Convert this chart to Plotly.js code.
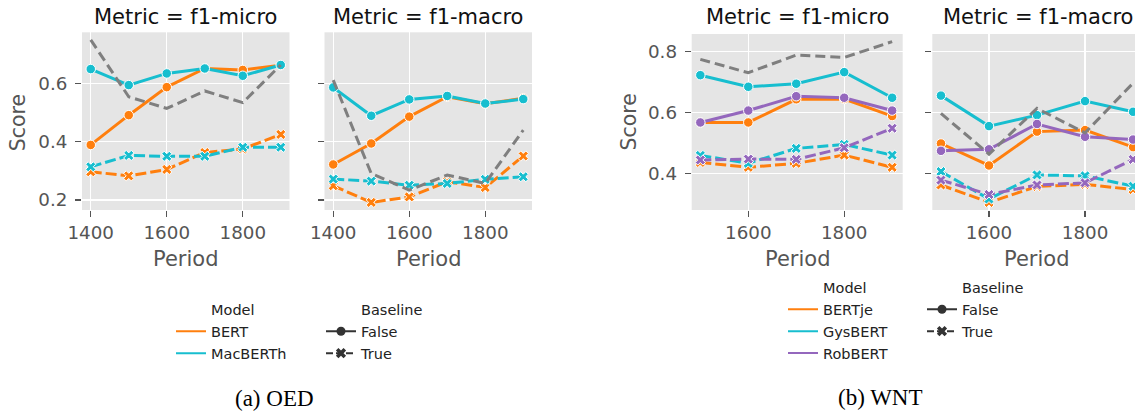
<!DOCTYPE html>
<html>
<head>
<meta charset="utf-8">
<script src="https://cdn.plot.ly/plotly-3.0.1.min.js"></script>
<style>
html,body{margin:0;padding:0;background:#fff;overflow:hidden;}
#chart{width:1135px;height:412px;}
</style>
</head>
<body>
<div id="chart"></div>
<script>
// ---- data ----
const periodsA = [1400, 1500, 1600, 1700, 1800, 1900];
const periodsB = [1500, 1600, 1700, 1800, 1900];

// OED, f1-micro
const bertMicro          = [0.389, 0.491, 0.587, 0.651, 0.646, 0.662];
const macberthMicro      = [0.649, 0.594, 0.634, 0.651, 0.626, 0.663];
const bertBaseMicro      = [0.297, 0.283, 0.305, 0.363, 0.375, 0.425];
const macberthBaseMicro  = [0.314, 0.353, 0.350, 0.350, 0.381, 0.381];
const refMicroOED        = [0.749, 0.554, 0.514, 0.574, 0.534, 0.663];
// OED, f1-macro
const bertMacro          = [0.322, 0.394, 0.486, 0.554, 0.530, 0.549];
const macberthMacro      = [0.586, 0.489, 0.545, 0.557, 0.531, 0.546];
const bertBaseMacro      = [0.249, 0.192, 0.211, 0.263, 0.243, 0.351];
const macberthBaseMacro  = [0.272, 0.265, 0.251, 0.257, 0.271, 0.280];
const refMacroOED        = [0.611, 0.291, 0.234, 0.286, 0.257, 0.440];

// WNT, f1-micro
const bertjeMicro        = [0.568, 0.568, 0.644, 0.645, 0.589];
const gysbertMicro       = [0.723, 0.685, 0.695, 0.733, 0.649];
const robbertMicro       = [0.568, 0.607, 0.654, 0.649, 0.607];
const bertjeBaseMicro    = [0.437, 0.421, 0.434, 0.461, 0.421];
const gysbertBaseMicro   = [0.460, 0.434, 0.483, 0.496, 0.461];
const robbertBaseMicro   = [0.445, 0.448, 0.447, 0.485, 0.549];
const refMicroWNT        = [0.775, 0.731, 0.789, 0.781, 0.833];
// WNT, f1-macro
const bertjeMacro        = [0.499, 0.427, 0.538, 0.543, 0.487];
const gysbertMacro       = [0.656, 0.556, 0.592, 0.638, 0.603];
const robbertMacro       = [0.475, 0.480, 0.563, 0.521, 0.512];
const bertjeBaseMacro    = [0.363, 0.306, 0.358, 0.365, 0.348];
const gysbertBaseMacro   = [0.407, 0.317, 0.396, 0.393, 0.359];
const robbertBaseMacro   = [0.379, 0.332, 0.363, 0.370, 0.447];
const refMacroWNT        = [0.598, 0.464, 0.614, 0.534, 0.697];

const yTicksOED = [0.2, 0.4, 0.6];
const yTicksWNT = [0.4, 0.6, 0.8];
const xTicks = [1400, 1600, 1800];
const modelsOED = ['BERT', 'MacBERTh'];
const modelsWNT = ['BERTje', 'GysBERT', 'RobBERT'];
const baselineLabels = ['False', 'True'];

// ---- styles ----
const COL = {BERT:'#ff7f0e', MacBERTh:'#17becf', BERTje:'#ff7f0e', GysBERT:'#17becf', RobBERT:'#9467bd'};
const GRAY = '#7f7f7f';
const DASH = '11px,4px';
const W = 1135, H = 412;
const px = v => v / W;
const py = v => 1 - v / H;

function series(x, y, color, isBase, xa, ya) {
  return {
    x: x, y: y, xaxis: xa, yaxis: ya, type: 'scatter', mode: 'lines+markers',
    showlegend: false, hoverinfo: 'skip',
    line: {color: color, width: 3, dash: isBase ? DASH : 'solid'},
    marker: {symbol: isBase ? 'x' : 'circle', size: isBase ? 9 : 9.5, color: color,
             line: {color: '#ffffff', width: 1}}
  };
}
function ref(x, y, xa, ya) {
  return {x: x, y: y, xaxis: xa, yaxis: ya, type: 'scatter', mode: 'lines', showlegend: false,
          hoverinfo: 'skip', line: {color: GRAY, width: 3, dash: '10px,5px'}};
}

const traces = [];
// OED micro
traces.push(series(periodsA, bertMicro, COL.BERT, false, 'x', 'y'));
traces.push(series(periodsA, bertBaseMicro, COL.BERT, true, 'x', 'y'));
traces.push(series(periodsA, macberthMicro, COL.MacBERTh, false, 'x', 'y'));
traces.push(series(periodsA, macberthBaseMicro, COL.MacBERTh, true, 'x', 'y'));
traces.push(ref(periodsA, refMicroOED, 'x', 'y'));
// OED macro
traces.push(series(periodsA, bertMacro, COL.BERT, false, 'x2', 'y2'));
traces.push(series(periodsA, bertBaseMacro, COL.BERT, true, 'x2', 'y2'));
traces.push(series(periodsA, macberthMacro, COL.MacBERTh, false, 'x2', 'y2'));
traces.push(series(periodsA, macberthBaseMacro, COL.MacBERTh, true, 'x2', 'y2'));
traces.push(ref(periodsA, refMacroOED, 'x2', 'y2'));
// WNT micro
traces.push(series(periodsB, bertjeMicro, COL.BERTje, false, 'x3', 'y3'));
traces.push(series(periodsB, bertjeBaseMicro, COL.BERTje, true, 'x3', 'y3'));
traces.push(series(periodsB, gysbertMicro, COL.GysBERT, false, 'x3', 'y3'));
traces.push(series(periodsB, gysbertBaseMicro, COL.GysBERT, true, 'x3', 'y3'));
traces.push(series(periodsB, robbertMicro, COL.RobBERT, false, 'x3', 'y3'));
traces.push(series(periodsB, robbertBaseMicro, COL.RobBERT, true, 'x3', 'y3'));
traces.push(ref(periodsB, refMicroWNT, 'x3', 'y3'));
// WNT macro
traces.push(series(periodsB, bertjeMacro, COL.BERTje, false, 'x4', 'y4'));
traces.push(series(periodsB, bertjeBaseMacro, COL.BERTje, true, 'x4', 'y4'));
traces.push(series(periodsB, gysbertMacro, COL.GysBERT, false, 'x4', 'y4'));
traces.push(series(periodsB, gysbertBaseMacro, COL.GysBERT, true, 'x4', 'y4'));
traces.push(series(periodsB, robbertMacro, COL.RobBERT, false, 'x4', 'y4'));
traces.push(series(periodsB, robbertBaseMacro, COL.RobBERT, true, 'x4', 'y4'));
traces.push(ref(periodsB, refMacroWNT, 'x4', 'y4'));

// ---- legends (seaborn-style: header rows with invisible handle) ----
function header(name, lg) {
  return {x: [null], y: [null], type: 'scatter', mode: 'lines', name: name, legend: lg,
          line: {width: 0, color: 'rgba(0,0,0,0)'}, hoverinfo: 'skip'};
}
function modelEntry(name, lg) {
  return {x: [null], y: [null], type: 'scatter', mode: 'lines', name: name, legend: lg,
          line: {width: 2, color: COL[name]}, hoverinfo: 'skip'};
}
function baseEntry(name, lg) {
  const isT = name === 'True';
  return {x: [null], y: [null], type: 'scatter', mode: 'lines+markers', name: name, legend: lg,
          line: {width: 2, color: '#333333', dash: isT ? '7px,3px' : 'solid'},
          marker: {symbol: isT ? 'x' : 'circle', size: 9, color: '#333333', line: {width: 0}},
          hoverinfo: 'skip'};
}
traces.push(header('Model', 'legend'));
modelsOED.forEach(m => traces.push(modelEntry(m, 'legend')));
traces.push(header('Baseline', 'legend2'));
baselineLabels.forEach(b => traces.push(baseEntry(b, 'legend2')));
traces.push(header('Model', 'legend3'));
modelsWNT.forEach(m => traces.push(modelEntry(m, 'legend3')));
traces.push(header('Baseline', 'legend4'));
baselineLabels.forEach(b => traces.push(baseEntry(b, 'legend4')));

const FONT = 'DejaVu Sans, sans-serif';
const TICKC = '#555555';
function xax(d0, d1, r, anchor) {
  return {domain: [px(d0), px(d1)], range: r, anchor: anchor, tickvals: xTicks,
          ticks: 'outside', ticklen: 6, tickwidth: 1.2, tickcolor: TICKC,
          ticklabelstandoff: 0,
          showgrid: true, gridcolor: '#ffffff', gridwidth: 1.3, zeroline: false, showline: false,
          tickfont: {family: FONT, size: 18.3, color: TICKC}, fixedrange: true};
}
function yax(top, bot, r, anchor, ticks, labels) {
  return {domain: [py(bot), py(top)], range: r, anchor: anchor, tickvals: ticks,
          ticktext: ticks.map(v => v.toFixed(1)), showticklabels: labels,
          ticks: 'outside', ticklen: 6, tickwidth: 1.2, tickcolor: TICKC,
          ticklabelstandoff: 4,
          showgrid: true, gridcolor: '#ffffff', gridwidth: 1.3, zeroline: false, showline: false,
          tickfont: {family: FONT, size: 18.3, color: TICKC}, fixedrange: true};
}

function ann(text, x, y, size, color, family, angle) {
  return {text: text, x: px(x), y: py(y), xref: 'paper', yref: 'paper', showarrow: false,
          xanchor: 'center', yanchor: 'middle', textangle: angle || 0,
          font: {family: family || FONT, size: size, color: color}};
}

const legendFont = {family: FONT, size: 14.5, color: '#222222'};
function leg(x, y) {
  return {x: px(x), y: py(y), xanchor: 'left', yanchor: 'top', xref: 'paper', yref: 'paper',
          bgcolor: 'rgba(0,0,0,0)', borderwidth: 0, font: legendFont, traceorder: 'normal',
          itemclick: false, itemdoubleclick: false, tracegroupgap: 0};
}

const layout = {
  width: W, height: H, margin: {l: 0, r: 0, t: 0, b: 0},
  paper_bgcolor: '#ffffff', plot_bgcolor: '#e5e5e5',
  xaxis:  xax(82, 289.5, [1377, 1923], 'y'),
  yaxis:  yax(32.3, 210, [0.166, 0.775], 'x', yTicksOED, true),
  xaxis2: xax(324.5, 532, [1377, 1923], 'y2'),
  yaxis2: yax(32.3, 210, [0.166, 0.775], 'x2', yTicksOED, false),
  xaxis3: xax(691.7, 902.7, [1482, 1922], 'y3'),
  yaxis3: yax(34, 210, [0.281, 0.858], 'x3', yTicksWNT, true),
  xaxis4: xax(932.3, 1135, [1482, 1904], 'y4'),
  yaxis4: yax(34, 210, [0.281, 0.858], 'x4', yTicksWNT, false),
  legend:  leg(171, 293.5),
  legend2: leg(321, 293.5),
  legend3: leg(783, 271.5),
  legend4: leg(922, 271.5),
  annotations: [
    ann('Metric = f1-micro', 185.7, 16.7, 21, '#111111'),
    ann('Metric = f1-macro', 428.2, 16.7, 21, '#111111'),
    ann('Metric = f1-micro', 797.2, 17.3, 21, '#111111'),
    ann('Metric = f1-macro', 1037.5, 17.3, 21, '#111111'),
    ann('Score', 18.3, 123, 20.5, TICKC, FONT, -90),
    ann('Score', 628, 122.5, 20.5, TICKC, FONT, -90),
    ann('Period', 185.7, 258.5, 21, TICKC),
    ann('Period', 428.2, 258.5, 21, TICKC),
    ann('Period', 797.2, 258.5, 21, TICKC),
    ann('Period', 1036.5, 258.5, 21, TICKC),
    ann('(a) OED', 274, 398, 23, '#000000', 'Liberation Serif, Times New Roman, serif'),
    ann('(b) WNT', 880.5, 397, 23, '#000000', 'Liberation Serif, Times New Roman, serif')
  ]
};

Plotly.newPlot('chart', traces, layout, {displayModeBar: false, staticPlot: true});
</script>
</body>
</html>
